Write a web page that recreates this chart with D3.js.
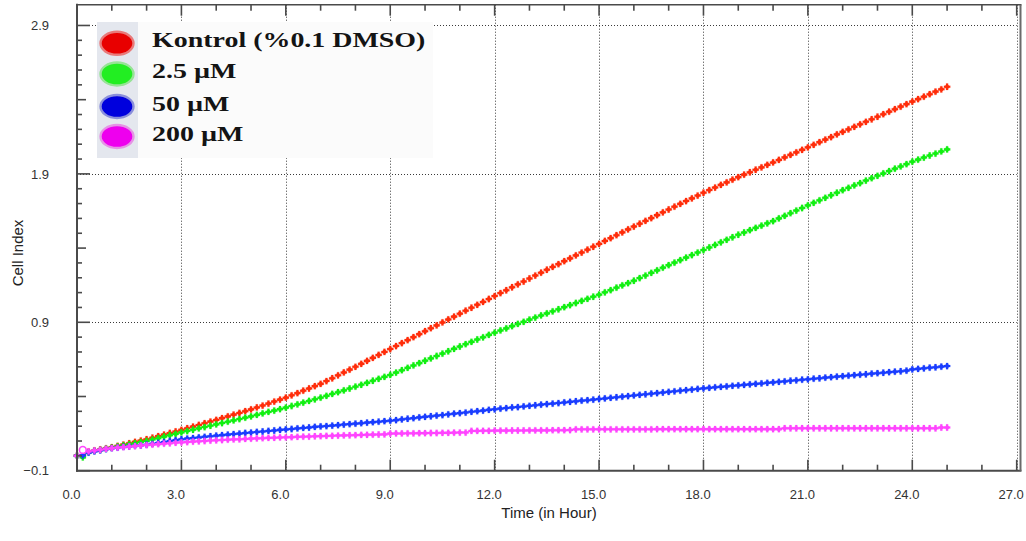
<!DOCTYPE html>
<html>
<head>
<meta charset="utf-8">
<script src="https://cdn.jsdelivr.net/npm/d3@7"></script>
<style>
  html, body { margin: 0; padding: 0; background: #ffffff; }
  svg { display: block; }
  .tick-label { font-family: "Liberation Sans", Arial, sans-serif; font-size: 13px; fill: #333333; }
  .axis-title { font-family: "Liberation Sans", Arial, sans-serif; font-size: 15px; fill: #222222; }
  .legend-text { font-family: "Liberation Serif", "Times New Roman", serif; font-weight: bold; font-size: 21.5px; fill: #141414; }
</style>
</head>
<body>
<svg id="chart" width="1026" height="541"></svg>
<script>
// Cell Index readings, one sweep every 10 minutes from t = 0 h.
const sweepMinutes = 10;

const seriesNames = ["Kontrol (%0.1 DMSO)", "2.5 \u00b5M", "50 \u00b5M", "200 \u00b5M"];
const seriesColors = ["#ff2d0a", "#12ef12", "#1a3dff", "#ff45ff"];
const legendEdgeColors = ["#e97a7a", "#97e397", "#8b8fdb", "#e594e5"];
const legendFillColors = ["#e80000", "#22ee22", "#0000dd", "#ee00ee"];

const kontrol = [
  0.002, 0.005, 0.028,
  0.036, 0.043, 0.051, 0.058,
  0.067, 0.076, 0.085, 0.094, 0.103, 0.112,
  0.122, 0.133, 0.143, 0.154, 0.164, 0.175,
  0.186, 0.197, 0.208, 0.220, 0.231, 0.242,
  0.254, 0.266, 0.278, 0.289, 0.301, 0.313,
  0.326, 0.339, 0.352, 0.366, 0.379, 0.392,
  0.408, 0.423, 0.439, 0.454, 0.470, 0.485,
  0.504, 0.523, 0.543, 0.562, 0.581, 0.600,
  0.620, 0.640, 0.660, 0.680, 0.700, 0.720,
  0.740, 0.760, 0.780, 0.800, 0.820, 0.840,
  0.860, 0.879, 0.899, 0.919, 0.938, 0.958,
  0.978, 0.998, 1.018, 1.037, 1.057, 1.077,
  1.097, 1.116, 1.136, 1.156, 1.175, 1.195,
  1.215, 1.234, 1.254, 1.273, 1.292, 1.312,
  1.331, 1.351, 1.370, 1.389, 1.409, 1.428,
  1.448, 1.467, 1.487, 1.506, 1.526, 1.545,
  1.564, 1.583, 1.602, 1.622, 1.641, 1.660,
  1.679, 1.698, 1.717, 1.735, 1.754, 1.773,
  1.791, 1.808, 1.826, 1.843, 1.861, 1.878,
  1.895, 1.911, 1.928, 1.944, 1.961, 1.977,
  1.994, 2.011, 2.028, 2.045, 2.062, 2.079,
  2.096, 2.114, 2.131, 2.148, 2.166, 2.183,
  2.200, 2.217, 2.234, 2.251, 2.268, 2.285,
  2.302, 2.319, 2.336, 2.353, 2.370, 2.387,
  2.404, 2.420, 2.437, 2.454, 2.470, 2.487
];

const dose2_5 = [
  0.000, -0.010, 0.025,
  0.033, 0.040, 0.048, 0.055,
  0.063, 0.070, 0.078, 0.085, 0.093, 0.100,
  0.110, 0.119, 0.129, 0.139, 0.148, 0.158,
  0.167, 0.176, 0.185, 0.194, 0.203, 0.212,
  0.221, 0.230, 0.239, 0.248, 0.257, 0.266,
  0.276, 0.286, 0.296, 0.305, 0.315, 0.325,
  0.336, 0.347, 0.359, 0.370, 0.381, 0.392,
  0.404, 0.417, 0.429, 0.441, 0.454, 0.466,
  0.479, 0.492, 0.506, 0.519, 0.532, 0.545,
  0.561, 0.577, 0.593, 0.609, 0.625, 0.641,
  0.657, 0.673, 0.689, 0.705, 0.721, 0.737,
  0.753, 0.768, 0.784, 0.799, 0.815, 0.830,
  0.845, 0.859, 0.874, 0.889, 0.903, 0.918,
  0.932, 0.946, 0.960, 0.974, 0.988, 1.002,
  1.016, 1.030, 1.044, 1.058, 1.072, 1.086,
  1.102, 1.117, 1.133, 1.149, 1.164, 1.180,
  1.198, 1.215, 1.233, 1.250, 1.268, 1.285,
  1.302, 1.319, 1.336, 1.353, 1.370, 1.387,
  1.404, 1.421, 1.439, 1.456, 1.473, 1.490,
  1.505, 1.521, 1.536, 1.551, 1.567, 1.582,
  1.600, 1.617, 1.635, 1.653, 1.670, 1.688,
  1.705, 1.722, 1.739, 1.756, 1.773, 1.790,
  1.806, 1.822, 1.838, 1.855, 1.871, 1.887,
  1.903, 1.919, 1.935, 1.950, 1.966, 1.982,
  1.996, 2.010, 2.024, 2.037, 2.051, 2.065
];

const dose50 = [
  0.000, 0.003, 0.022,
  0.030, 0.037, 0.045, 0.052,
  0.056, 0.060, 0.064, 0.067, 0.071, 0.075,
  0.081, 0.087, 0.093, 0.100, 0.106, 0.112,
  0.116, 0.120, 0.124, 0.128, 0.132, 0.136,
  0.140, 0.143, 0.147, 0.150, 0.154, 0.157,
  0.161, 0.164, 0.168, 0.171, 0.175, 0.178,
  0.181, 0.185, 0.188, 0.191, 0.195, 0.198,
  0.201, 0.204, 0.207, 0.211, 0.214, 0.217,
  0.220, 0.224, 0.227, 0.230, 0.234, 0.237,
  0.241, 0.246, 0.250, 0.254, 0.259, 0.263,
  0.267, 0.271, 0.275, 0.280, 0.284, 0.288,
  0.292, 0.297, 0.301, 0.305, 0.310, 0.314,
  0.318, 0.322, 0.326, 0.329, 0.333, 0.337,
  0.341, 0.345, 0.349, 0.352, 0.356, 0.360,
  0.364, 0.368, 0.372, 0.375, 0.379, 0.383,
  0.387, 0.391, 0.395, 0.399, 0.403, 0.407,
  0.411, 0.415, 0.419, 0.423, 0.427, 0.431,
  0.435, 0.439, 0.443, 0.447, 0.451, 0.455,
  0.458, 0.462, 0.465, 0.468, 0.472, 0.475,
  0.478, 0.482, 0.485, 0.488, 0.492, 0.495,
  0.499, 0.502, 0.506, 0.509, 0.513, 0.516,
  0.520, 0.523, 0.527, 0.530, 0.534, 0.537,
  0.540, 0.544, 0.547, 0.550, 0.554, 0.557,
  0.560, 0.564, 0.567, 0.570, 0.574, 0.583,
  0.586, 0.590, 0.594, 0.597, 0.601, 0.605
];

const dose200 = [
  0.000, 0.040, 0.030,
  0.036, 0.041, 0.047, 0.052,
  0.056, 0.059, 0.063, 0.066, 0.070, 0.073,
  0.076, 0.079, 0.082, 0.085, 0.088, 0.091,
  0.093, 0.096, 0.098, 0.100, 0.103, 0.105,
  0.107, 0.109, 0.111, 0.112, 0.114, 0.116,
  0.118, 0.119, 0.121, 0.122, 0.124, 0.125,
  0.126, 0.128, 0.129, 0.130, 0.132, 0.133,
  0.134, 0.135, 0.137, 0.138, 0.139, 0.140,
  0.141, 0.142, 0.143, 0.144, 0.145, 0.150,
  0.151, 0.151, 0.152, 0.152, 0.153, 0.153,
  0.154, 0.154, 0.155, 0.155, 0.156, 0.157,
  0.157, 0.168, 0.168, 0.169, 0.169, 0.170,
  0.170, 0.170, 0.171, 0.171, 0.171, 0.172,
  0.172, 0.172, 0.172, 0.173, 0.173, 0.173,
  0.174, 0.179, 0.179, 0.179, 0.179, 0.179,
  0.179, 0.179, 0.179, 0.179, 0.179, 0.179,
  0.179, 0.179, 0.179, 0.180, 0.180, 0.180,
  0.180, 0.180, 0.180, 0.180, 0.180, 0.180,
  0.180, 0.180, 0.180, 0.180, 0.180, 0.180,
  0.180, 0.180, 0.180, 0.180, 0.180, 0.180,
  0.180, 0.186, 0.186, 0.186, 0.186, 0.186,
  0.186, 0.186, 0.186, 0.186, 0.186, 0.186,
  0.186, 0.186, 0.186, 0.186, 0.186, 0.186,
  0.186, 0.186, 0.186, 0.186, 0.186, 0.186,
  0.186, 0.186, 0.186, 0.186, 0.191, 0.191
];

// Sweep drawn as an open ring (series index, sweep index)
const openMarkers = [[3, 1]];

const xTickValues = [0, 3, 6, 9, 12, 15, 18, 21, 24, 27];
const yTickValues = [-0.1, 0.9, 1.9, 2.9];
const xTitle = "Time (in Hour)";
const yTitle = "Cell Index";

const seriesValues = [kontrol, dose2_5, dose50, dose200];

// ---- layout ----
const svg = d3.select("#chart");
const plot = { left: 77, right: 1016.7, top: 4.7, bottom: 470.7 };

const x = d3.scaleLinear().domain([0, 27]).range([plot.left, plot.right]);
const y = d3.scaleLinear().domain([-0.1, 3.04]).range([plot.bottom, plot.top]);

const axisColor = "#4a4a4a";

// soft edge for the legend swatches
const defs = svg.append("defs");
defs.append("filter").attr("id", "soft").attr("x", "-20%").attr("y", "-20%").attr("width", "140%").attr("height", "140%")
  .append("feGaussianBlur").attr("stdDeviation", 0.7);

// ---- dotted grid ----
const grid = svg.append("g").attr("stroke", "#3a3a3a").attr("stroke-width", 1).attr("stroke-dasharray", "1,2");
grid.selectAll("line.gx").data(xTickValues.filter(d => d > 0)).join("line")
  .attr("x1", d => Math.round(x(d)) + 0.5).attr("x2", d => Math.round(x(d)) + 0.5)
  .attr("y1", plot.top).attr("y2", plot.bottom);
grid.selectAll("line.gy").data(yTickValues.filter(d => d > -0.1)).join("line")
  .attr("x1", plot.left).attr("x2", plot.right)
  .attr("y1", d => Math.round(y(d)) + 0.5).attr("y2", d => Math.round(y(d)) + 0.5);

// ---- series: one bead per sweep ----
const crossPath = d3.symbol(d3.symbolCross).size(22)();
seriesValues.forEach((vals, si) => {
  const pts = vals.map((v, i) => ({ t: i * sweepMinutes / 60, v, i }));
  const g = svg.append("g").attr("fill", seriesColors[si]);
  g.append("path")
    .attr("d", d3.line().x(d => x(d.t)).y(d => y(d.v))(pts))
    .attr("fill", "none").attr("stroke", seriesColors[si]).attr("stroke-width", 1).attr("stroke-opacity", 0.3);
  const isOpen = d => openMarkers.some(([s, k]) => s === si && k === d.i);
  const m = g.selectAll("g.m").data(pts.filter(d => !isOpen(d))).join("g")
    .attr("transform", d => `translate(${x(d.t)},${y(d.v)})`);
  m.append("path").attr("d", crossPath).attr("stroke", seriesColors[si]).attr("stroke-opacity", 0.3).attr("stroke-width", 0.7);
  m.append("circle").attr("r", 2.1);
  g.selectAll("circle.open").data(pts.filter(isOpen)).join("circle")
    .attr("cx", d => x(d.t)).attr("cy", d => y(d.v)).attr("r", 3.4)
    .attr("fill", "#ffffff").attr("stroke", seriesColors[si]).attr("stroke-width", 1.6);
});

// ---- frame & axes ----
const frame = svg.append("g").attr("stroke", axisColor).attr("fill", "none");
frame.append("line").attr("x1", plot.left).attr("x2", plot.left).attr("y1", plot.top - 1).attr("y2", plot.bottom + 1).attr("stroke-width", 2);
frame.append("line").attr("x1", plot.left - 1).attr("x2", 1021.5).attr("y1", plot.bottom).attr("y2", plot.bottom).attr("stroke-width", 2);
frame.append("line").attr("x1", plot.left - 1).attr("x2", 1021.5).attr("y1", plot.top).attr("y2", plot.top).attr("stroke-width", 1.6);
frame.append("line").attr("x1", 1020.5).attr("x2", 1020.5).attr("y1", plot.top).attr("y2", plot.bottom).attr("stroke-width", 2).attr("stroke", "#6a6a6a");

// x ticks: majors every 3 h, minors every hour, on bottom (upward) and top (downward)
const xMinor = d3.range(1, 27).filter(h => h % 3 !== 0);
const ticks = svg.append("g").attr("stroke", axisColor).attr("stroke-width", 1.6);
ticks.selectAll("line.xb").data(xTickValues).join("line")
  .attr("x1", d => x(d)).attr("x2", d => x(d)).attr("y1", plot.bottom).attr("y2", plot.bottom - 11);
ticks.selectAll("line.xbm").data(xMinor).join("line")
  .attr("x1", d => x(d)).attr("x2", d => x(d)).attr("y1", plot.bottom).attr("y2", plot.bottom - 6);
ticks.selectAll("line.xt").data(xTickValues).join("line")
  .attr("x1", d => x(d)).attr("x2", d => x(d)).attr("y1", plot.top).attr("y2", plot.top + 11);
ticks.selectAll("line.xtm").data(xMinor).join("line")
  .attr("x1", d => x(d)).attr("x2", d => x(d)).attr("y1", plot.top).attr("y2", plot.top + 6);

// y ticks: majors every 1.0, medium at the half, minors every 0.1
const yMinor = d3.range(0, 30).map(k => +(-0.1 + k * 0.1).toFixed(1)).filter(v => !yTickValues.includes(v));
ticks.selectAll("line.y").data(yTickValues).join("line")
  .attr("x1", plot.left).attr("x2", plot.left + 13).attr("y1", d => y(d)).attr("y2", d => y(d));
ticks.selectAll("line.ym").data(yMinor).join("line")
  .attr("x1", plot.left)
  .attr("x2", d => plot.left + (Math.abs(((d + 0.1) % 1) - 0.5) < 0.01 ? 9 : 5))
  .attr("y1", d => y(d)).attr("y2", d => y(d));

// tick labels via d3 axes (domain lines and tick marks hidden)
const xAxis = svg.append("g").attr("transform", `translate(0,${plot.bottom})`)
  .call(d3.axisBottom(x).tickValues(xTickValues).tickSize(0).tickPadding(19).tickFormat(d3.format(".1f")));
xAxis.select(".domain").remove();
xAxis.selectAll("text").attr("class", "tick-label").attr("dx", -6).attr("font-size", null).attr("font-family", null).attr("fill", null);

const yAxis = svg.append("g").attr("transform", `translate(${plot.left},0)`)
  .call(d3.axisLeft(y).tickValues(yTickValues).tickSize(0).tickPadding(28).tickFormat(d3.format(".1f")));
yAxis.select(".domain").remove();
yAxis.selectAll("text").attr("class", "tick-label").attr("font-size", null).attr("font-family", null).attr("fill", null);

// axis titles
svg.append("text").attr("class", "axis-title").attr("x", 549).attr("y", 518).attr("text-anchor", "middle").text(xTitle);
svg.append("text").attr("class", "axis-title")
  .attr("transform", "translate(23,253) rotate(-90)").attr("text-anchor", "middle").text(yTitle);

// ---- legend ----
const legend = svg.append("g");
legend.append("rect").attr("x", 97).attr("y", 22).attr("width", 336).attr("height", 136).attr("fill", "#fbfbfb");
legend.append("rect").attr("x", 97).attr("y", 22).attr("width", 41).attr("height", 136).attr("fill", "#e4e7ee");
const legendRowY = [43.3, 74, 106.5, 136.5];
const legendRows = legend.selectAll("g.row").data(seriesNames).join("g");
legendRows.append("ellipse")
  .attr("cx", 117).attr("cy", (d, i) => legendRowY[i]).attr("rx", 16.5).attr("ry", 11.5)
  .attr("fill", (d, i) => legendFillColors[i]).attr("stroke", (d, i) => legendEdgeColors[i]).attr("stroke-width", 2.4)
  .attr("filter", "url(#soft)");
legendRows.append("text").attr("class", "legend-text")
  .attr("transform", (d, i) => `translate(152,${legendRowY[i] + 4}) scale(1.3,1)`)
  .text(d => d);
</script>
</body>
</html>
